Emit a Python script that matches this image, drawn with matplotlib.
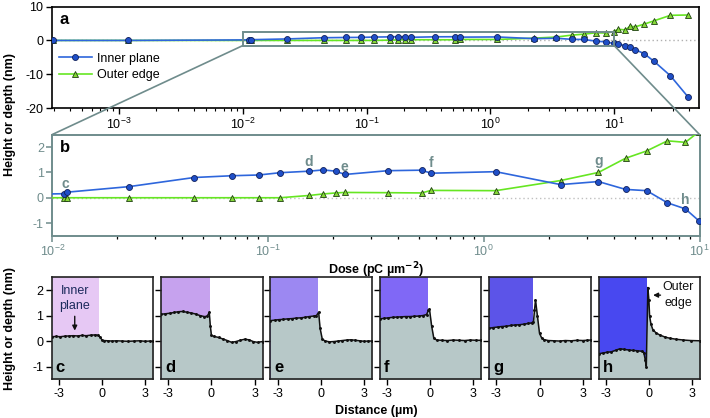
import matplotlib
matplotlib.use("Agg")
import matplotlib.pyplot as plt
from matplotlib.patches import Rectangle, ConnectionPatch
from matplotlib.ticker import LogLocator, NullFormatter

plt.rcParams['font.family'] = ['Liberation Sans', 'DejaVu Sans']
plt.rcParams['mathtext.default'] = 'regular'
plt.rcParams['axes.unicode_minus'] = False
plt.rcParams['font.size'] = 9

# ---------------- data: dose series (panels a, b) ----------------
dose = [2.9e-4, 1.17e-3, 0.0113, 0.0117, 0.0227, 0.0454, 0.068, 0.0908, 0.1137,
        0.155, 0.18, 0.206, 0.227, 0.36, 0.516, 0.569, 1.137, 2.27, 3.4, 4.54,
        5.69, 7.1, 8.6, 9.9, 10.8, 12.3, 13.5, 14.8, 17.5, 21.1, 28.5, 39.9]
inner_plane = [0.0, 0.0, 0.16, 0.22, 0.44, 0.80, 0.87, 0.90, 0.99,
               1.05, 1.10, 1.05, 0.92, 1.07, 1.09, 0.97, 1.03, 0.52, 0.64, 0.33,
               0.28, -0.20, -0.44, -0.90, -1.0, -1.6, -2.0, -2.7, -3.9, -6.2, -10.4, -16.8]
outer_edge = [0.0, 0.0, 0.0, 0.0, 0.0, 0.0, 0.0, 0.0, 0.0,
              0.09, 0.15, 0.19, 0.21, 0.20, 0.19, 0.29, 0.28, 0.68, 1.0, 1.56,
              1.85, 2.25, 2.19, 2.6, 3.3, 3.1, 4.2, 4.0, 4.8, 5.8, 7.4, 7.5]

# labels of the profiles in panel b
b_labels = ['c', 'd', 'e', 'f', 'g', 'h']
b_label_x = [0.0115, 0.155, 0.227, 0.569, 3.4, 8.6]
b_label_y = [0.56, 1.43, 1.2, 1.39, 1.47, -0.08]

# ---------------- data: height profiles (panels c-h) ----------------
prof_x = {
    'c': [-3.5, -3.2, -2.9, -2.6, -2.3, -2.0, -1.7, -1.4, -1.1, -0.8, -0.5, -0.3, -0.15, 0.0, 0.1,
          0.4, 0.7, 1.0, 1.4, 1.8, 2.2, 2.6, 3.0, 3.3, 3.55],
    'd': [-3.5, -3.2, -2.9, -2.6, -2.3, -2.0, -1.7, -1.4, -1.1, -0.8, -0.5, -0.3, -0.15, -0.08, 0.0,
          0.2, 0.5, 0.8, 1.1, 1.4, 1.7, 2.0, 2.3, 2.6, 2.9, 3.2, 3.55],
    'e': [-3.5, -3.2, -2.9, -2.6, -2.3, -2.0, -1.7, -1.4, -1.1, -0.8, -0.5, -0.3, -0.15, -0.05, 0.1,
          0.3, 0.6, 0.9, 1.2, 1.5, 1.8, 2.1, 2.4, 2.7, 3.0, 3.3, 3.55],
    'f': [-3.5, -3.2, -2.9, -2.6, -2.3, -2.0, -1.7, -1.4, -1.1, -0.8, -0.5, -0.25, -0.12, -0.05, 0.1,
          0.25, 0.45, 0.8, 1.2, 1.6, 2.0, 2.4, 2.8, 3.2, 3.55],
    'g': [-3.5, -3.2, -2.9, -2.6, -2.3, -2.0, -1.7, -1.4, -1.1, -0.8, -0.55, -0.42, -0.35, -0.28, -0.15,
          0.0, 0.15, 0.3, 0.6, 1.0, 1.4, 1.8, 2.2, 2.6, 3.0, 3.3, 3.55],
    'h': [-3.5, -3.2, -2.9, -2.6, -2.3, -2.0, -1.7, -1.4, -1.1, -0.8, -0.5, -0.35, -0.25, -0.18, -0.07,
          0.0, 0.05, 0.15, 0.28, 0.5, 0.75, 1.1, 1.45, 1.9, 2.4, 2.9, 3.55],
}
prof_y = {
    'c': [0.17, 0.18, 0.17, 0.19, 0.20, 0.21, 0.20, 0.22, 0.21, 0.23, 0.24, 0.23, 0.16, 0.04, 0.02,
          0.01, 0.0, 0.01, 0.0, -0.01, 0.0, 0.01, -0.01, 0.0, -0.01],
    'd': [1.05, 1.07, 1.09, 1.12, 1.15, 1.16, 1.13, 1.10, 1.06, 1.0, 0.96, 0.97, 1.12, 0.6, 0.22,
          0.18, 0.14, 0.08, 0.02, -0.05, -0.02, 0.03, 0.07, 0.05, -0.02, -0.05, -0.02],
    'e': [0.80, 0.82, 0.84, 0.85, 0.87, 0.88, 0.90, 0.91, 0.93, 0.96, 0.98, 1.0, 1.13, 0.5, 0.08,
          0.0, -0.03, -0.02, 0.0, 0.02, 0.04, 0.05, 0.03, 0.01, -0.01, 0.0, 0.0],
    'f': [0.87, 0.89, 0.91, 0.93, 0.94, 0.95, 0.96, 0.96, 0.97, 0.98, 1.0, 1.04, 1.2, 1.26, 0.6,
          0.12, 0.04, 0.03, 0.02, 0.04, 0.03, 0.02, 0.04, 0.03, 0.03],
    'g': [0.50, 0.53, 0.55, 0.57, 0.58, 0.61, 0.63, 0.64, 0.66, 0.69, 0.71, 0.76, 1.2, 1.62, 1.0,
          0.3, 0.12, 0.06, 0.02, 0.01, 0.0, 0.02, 0.01, 0.03, 0.02, 0.03, 0.04],
    'h': [-0.50, -0.47, -0.44, -0.42, -0.36, -0.30, -0.33, -0.35, -0.37, -0.38, -0.40, -0.45, -0.75, -1.0, 2.1,
          1.6, 0.97, 0.65, 0.44, 0.32, 0.24, 0.16, 0.11, 0.07, 0.04, 0.02, 0.01],
}
edge_pos = {'c': -0.23, 'd': -0.12, 'e': -0.19, 'f': -0.12, 'g': -0.42, 'h': -0.14}
region_color = {'c': '#e6c8f4', 'd': '#c6a2ee', 'e': '#9c88f2', 'f': '#8068f6', 'g': '#5c54e8', 'h': '#4848f0'}

# ---------------- styles ----------------
W, H = 710, 418
BLUE = '#2e66dc'
BLUE_FACE = '#1f4fc8'
GREEN = '#66e622'
GREEN_FACE = '#86d838'
SLATE = '#6f8c8c'
FILL = '#b7c8c8'

fig = plt.figure(figsize=(W / 100, H / 100), dpi=100)

def px_axes(l, t, r, b):
    return fig.add_axes([l / W, 1 - b / H, (r - l) / W, (b - t) / H])

# ---------------- panel a ----------------
axa = px_axes(51.7, 6.5, 699.5, 108.3)
axa.set_xscale('log')
axa.set_xlim(2.85e-4, 49)
axa.set_ylim(-20, 10)
axa.axhline(0, color='#b0b0b0', lw=1.0, ls=(0, (1, 2)), zorder=1)
axa.plot(dose, inner_plane, '-o', color=BLUE, lw=1.2, ms=4.3, mfc=BLUE_FACE, mec='#10205a', mew=0.6,
         label='Inner plane', zorder=4)
axa.plot(dose, outer_edge, '-^', color=GREEN, lw=1.2, ms=4.5, mfc=GREEN_FACE, mec='#1e4010', mew=0.6,
         label='Outer edge', zorder=3)
axa.add_patch(Rectangle((0.01, -1.5), 10 - 0.01, 4.0, fill=False, ec=SLATE, lw=1.4, zorder=5))
axa.set_yticks([-20, -10, 0, 10])
axa.xaxis.set_major_locator(LogLocator(base=10, numticks=20))
axa.xaxis.set_minor_locator(LogLocator(base=10, subs=range(2, 10), numticks=40))
axa.xaxis.set_minor_formatter(NullFormatter())
axa.tick_params(direction='out', length=4, width=1, labelsize=9, pad=2)
axa.tick_params(which='minor', length=2.5, width=0.8)
for s in axa.spines.values():
    s.set_linewidth(1.2)
axa.text(0.012, 0.87, 'a', transform=axa.transAxes, fontsize=12, fontweight='bold', va='center', ha='left')
axa.legend(loc='upper left', bbox_to_anchor=(0.0, 0.62), frameon=False, fontsize=9, handlelength=2.6,
           handletextpad=0.4, labelspacing=0.35, borderaxespad=0.2)

# ---------------- panel b ----------------
axb = px_axes(52.3, 134.5, 699.5, 235.7)
axb.set_xscale('log')
axb.set_xlim(0.01, 10)
axb.set_ylim(-1.5, 2.5)
axb.axhline(0, color='#c0c0c0', lw=1.0, ls=(0, (1, 2)), zorder=1)
axb.plot(dose, inner_plane, '-o', color=BLUE, lw=1.2, ms=4.3, mfc=BLUE_FACE, mec='#10205a', mew=0.6, zorder=4)
axb.plot(dose, outer_edge, '-^', color=GREEN, lw=1.2, ms=4.5, mfc=GREEN_FACE, mec='#1e4010', mew=0.6, zorder=3)
axb.set_yticks([-1, 0, 1, 2])
axb.xaxis.set_major_locator(LogLocator(base=10, numticks=20))
axb.xaxis.set_minor_locator(LogLocator(base=10, subs=range(2, 10), numticks=40))
axb.xaxis.set_minor_formatter(NullFormatter())
axb.tick_params(direction='out', length=4, width=1.1, labelsize=9, colors=SLATE, pad=2)
axb.tick_params(which='minor', length=2.5, width=0.9)
for s in axb.spines.values():
    s.set_color(SLATE)
    s.set_linewidth(1.4)
axb.text(0.012, 0.87, 'b', transform=axb.transAxes, fontsize=12, fontweight='bold', va='center', ha='left')
for lab, lx, ly in zip(b_labels, b_label_x, b_label_y):
    axb.text(lx, ly, lab, color=SLATE, fontsize=10, fontweight='bold', ha='center', va='center')
axb.set_xlabel(r'Dose (pC µm$^{\mathbf{-2}}$)', fontsize=9, fontweight='bold', labelpad=1)

# connecting lines between zoom rectangle and panel b
for xv in (0.01, 10):
    con = ConnectionPatch(xyA=(xv, -1.5), coordsA=axa.transData, xyB=(xv, 2.5), coordsB=axb.transData,
                          color=SLATE, lw=1.2)
    fig.add_artist(con)

# ---------------- panels c-h ----------------
pw = 101.5
gap = (700 - 51.7 - 6 * pw) / 5
prof_axes = []
for i, key in enumerate(['c', 'd', 'e', 'f', 'g', 'h']):
    l = 51.7 + i * (pw + gap)
    ax = px_axes(l, 277.3, l + pw, 379.3)
    ax.set_xlim(-3.5, 3.55)
    ax.set_ylim(-1.5, 2.5)
    ax.axvspan(-3.5, edge_pos[key], color=region_color[key], lw=0, zorder=1)
    ax.fill_between(prof_x[key], prof_y[key], -1.5, color=FILL, lw=0, zorder=2)
    ax.plot(prof_x[key], prof_y[key], '-', color='#111111', lw=1.1, marker='.', ms=2.2, zorder=3)
    ax.set_yticks([-1, 0, 1, 2])
    ax.set_xticks([-3, 0, 3])
    ax.tick_params(direction='out', length=4, width=1, labelsize=9, pad=2)
    if i > 0:
        ax.set_yticklabels([])
    for s in ax.spines.values():
        s.set_linewidth(1.2)
        s.set_color('#222222')
    ax.text(0.04, 0.04, key, transform=ax.transAxes, fontsize=12, fontweight='bold', ha='left', va='bottom', zorder=5)
    prof_axes.append(ax)

axc = prof_axes[0]
axc.text(-1.9, 1.97, 'Inner', color='#1c2a5c', fontsize=9, ha='center', va='center', zorder=5)
axc.text(-1.9, 1.37, 'plane', color='#1c2a5c', fontsize=9, ha='center', va='center', zorder=5)
axc.annotate('', xy=(-1.9, 0.3), xytext=(-1.9, 1.08),
             arrowprops=dict(arrowstyle='-|>', color='#111111', lw=1.0, mutation_scale=7), zorder=5)
axh = prof_axes[-1]
axh.text(2.05, 2.1, 'Outer', color='#111111', fontsize=9, ha='center', va='center', zorder=5)
axh.text(2.05, 1.5, 'edge', color='#111111', fontsize=9, ha='center', va='center', zorder=5)
axh.annotate('', xy=(0.1, 1.8), xytext=(1.0, 1.8),
             arrowprops=dict(arrowstyle='-|>', color='#111111', lw=1.0, mutation_scale=7), zorder=5)

fig.text(376 / W, 1 - 411 / H, 'Distance (µm)', fontsize=9, fontweight='bold', ha='center', va='center')
fig.text(10 / W, 1 - 115 / H, 'Height or depth (nm)', fontsize=9, fontweight='bold', rotation=90,
         ha='center', va='center')
fig.text(10 / W, 1 - 328 / H, 'Height or depth (nm)', fontsize=9, fontweight='bold', rotation=90,
         ha='center', va='center')

fig.savefig('out.png', dpi=100)
